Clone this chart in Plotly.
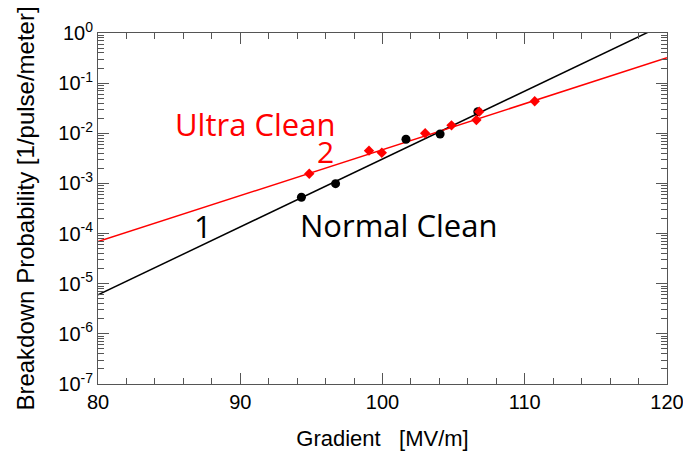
import plotly.graph_objects as go

# Data
normal_x = [94.3, 96.7, 101.65, 104.05, 106.7]
normal_y = [5.3e-4, 9.9e-4, 7.6e-3, 9.7e-3, 0.027]

ultra_x = [94.85, 99.05, 99.95, 103.0, 104.85, 106.6, 106.8, 110.7]
ultra_y = [1.56e-3, 4.5e-3, 4.1e-3, 0.0100, 0.0144, 0.0184, 0.027, 0.0434]

# fit-line endpoints
normal_fit_x = [80, 120]
normal_fit_y = [6.0e-6, 1.57]
ultra_fit_x = [80, 120]
ultra_fit_y = [6.9e-5, 0.322]

y_tick_exps = [0, -1, -2, -3, -4, -5, -6, -7]
x_ticks = [80, 90, 100, 110, 120]

fig = go.Figure()
fig.add_trace(go.Scatter(x=normal_fit_x, y=normal_fit_y, mode="lines",
                         line=dict(color="black", width=1.5), showlegend=False))
fig.add_trace(go.Scatter(x=ultra_fit_x, y=ultra_fit_y, mode="lines",
                         line=dict(color="#ff0000", width=1.5), showlegend=False))
fig.add_trace(go.Scatter(x=normal_x, y=normal_y, mode="markers",
                         marker=dict(color="black", size=9, symbol="circle"), showlegend=False))
fig.add_trace(go.Scatter(x=ultra_x, y=ultra_y, mode="markers",
                         marker=dict(color="#ff0000", size=8, symbol="diamond"), showlegend=False))

yvals = [10.0 ** e for e in y_tick_exps]
ytext = ["10<sup>%d</sup>" % e for e in y_tick_exps]
yminor = [m * 10.0 ** e for e in range(-7, 0) for m in range(2, 10)]
xminor = [v for v in range(80, 121, 2) if v % 10 != 0]

axis_common = dict(showgrid=False, zeroline=False, showline=True, linecolor="#555555",
                   linewidth=1, mirror="allticks", ticks="inside", ticklen=11,
                   tickcolor="#555555", tickwidth=1, ticklabeloverflow="allow",
                   automargin=False,
                   tickfont=dict(family="Liberation Sans, Arial", size=20, color="black"))

fig.update_xaxes(range=[80, 120], tickmode="array", tickvals=x_ticks,
                 ticktext=[str(v) for v in x_ticks],
                 minor=dict(ticks="inside", tickmode="array", tickvals=xminor, ticklen=6,
                            tickcolor="#555555", showgrid=False),
                 title=dict(text="Gradient   [MV/m]",
                            font=dict(family="Liberation Sans, Arial", size=22, color="black"),
                            standoff=18),
                 **axis_common)
fig.update_yaxes(type="log", range=[-7, 0], tickmode="array", tickvals=yvals, ticktext=ytext,
                 minor=dict(ticks="inside", tickmode="array", tickvals=yminor, ticklen=6,
                            tickcolor="#555555", showgrid=False),
                 title=dict(text="Breakdown Probability [1/pulse/meter]",
                            font=dict(family="Liberation Sans, Arial", size=24, color="black"),
                            standoff=16),
                 **axis_common)

ann_font = "Open Sans, Noto Sans, sans-serif"
# annotation y positions on a log axis are given in log10 units
fig.add_annotation(x=91.04, y=-1.815, text="Ultra Clean", showarrow=False,
                   font=dict(family=ann_font, size=31, color="#ff0000"))
fig.add_annotation(x=95.96, y=-2.37, text="2", showarrow=False,
                   font=dict(family=ann_font, size=30, color="#ff0000"))
fig.add_annotation(x=87.38, y=-3.84, text="1", showarrow=False,
                   font=dict(family=ann_font, size=31, color="black"))
fig.add_annotation(x=101.09, y=-3.83, text="Normal Clean", showarrow=False,
                   font=dict(family=ann_font, size=31, color="black"))

fig.update_layout(width=683, height=456, plot_bgcolor="white", paper_bgcolor="white",
                  margin=dict(l=98, r=16, t=33, b=72))

fig.write_html("out.html", config={"displayModeBar": False},
               post_script="document.body.style.margin='0';")
